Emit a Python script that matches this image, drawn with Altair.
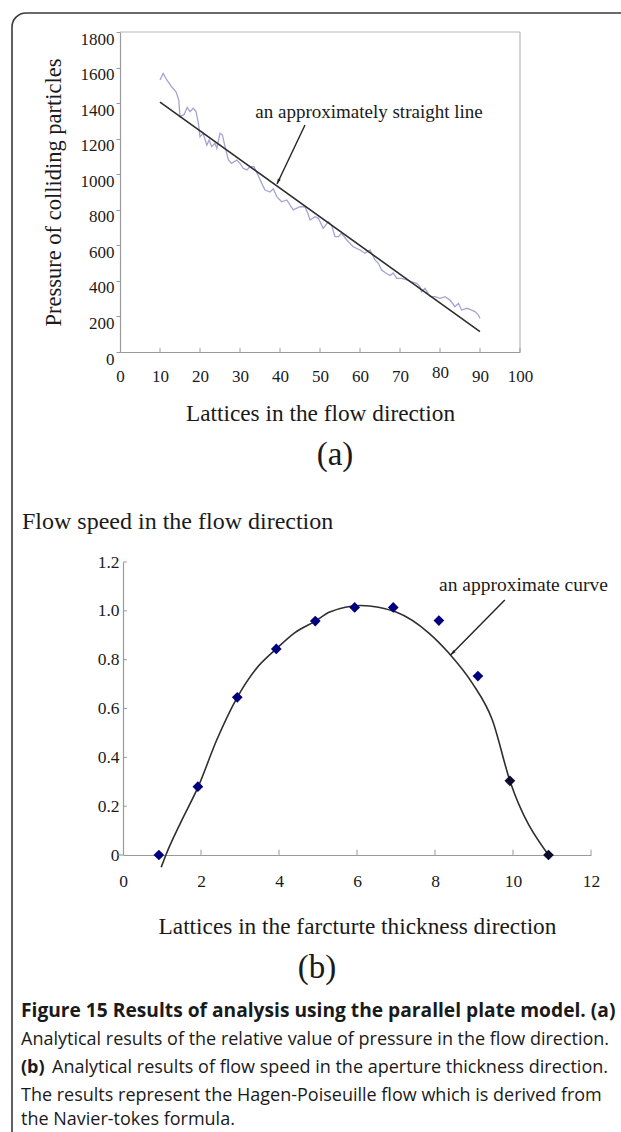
import altair as alt
import pandas as pd

# ---------------- Panel (a): pressure along the flow direction ----------------
lattice_a = [10, 10.8, 11.7, 12.9, 14.0, 14.7, 15.0, 16.0, 16.8, 17.5, 18.3, 19.0, 19.6, 20.0,
             20.8, 21.7, 22.3, 22.9, 23.75, 24.2, 25.0, 25.6, 26.25, 27.1, 27.9, 29.2, 30.0,
             30.8, 31.7, 32.5, 33.5, 34.6, 35.4, 36.25, 37.5, 38.3, 39.2, 40.4, 41.7, 43.3,
             45.0, 46.25, 47.1, 47.5, 48.75, 49.6, 50.8, 52.1, 52.9, 53.75, 54.6, 55.4, 56.7,
             58.3, 60.0, 61.25, 62.5, 63.75, 64.6, 65.4, 66.7, 67.5, 68.3, 69.2, 70.4, 71.7,
             72.9, 74.2, 75.0, 75.4, 76.25, 77.5, 78.75, 80.0, 81.25, 82.5, 83.75, 84.6, 85.4,
             86.7, 87.9, 88.75, 89.6, 90.0]
pressure_a = [1530, 1567, 1530, 1492, 1464, 1417, 1324, 1335, 1376, 1352, 1371, 1352, 1286, 1211,
              1230, 1164, 1193, 1155, 1174, 1146, 1230, 1221, 1155, 1080, 1061, 1080, 1061,
              1033, 1024, 1042, 1042, 990, 950, 911, 900, 918, 874, 845, 855, 799,
              817, 817, 771, 742, 761, 752, 696, 733, 714, 649, 649, 668, 630,
              592, 574, 555, 574, 518, 499, 461, 440, 430, 445, 414, 414, 405,
              395, 386, 367, 339, 358, 311, 311, 302, 311, 292, 255, 274, 236,
              246, 236, 227, 208, 189]
fit_x_a = [10, 90]
fit_y_a = [1405, 115]
xticks_a = [0, 10, 20, 30, 40, 50, 60, 70, 80, 90, 100]
yticks_a = [0, 200, 400, 600, 800, 1000, 1200, 1400, 1600, 1800]
arrow_a_x = [46.25, 39.25]
arrow_a_y = [1277, 945]

# ---------------- Panel (b): flow speed across the aperture ----------------
speed_x = [0.92, 1.92, 2.93, 3.93, 4.93, 5.94, 6.93, 8.1, 9.1, 9.92, 10.91]
speed_y = [0.0, 0.28, 0.646, 0.844, 0.958, 1.014, 1.014, 0.96, 0.733, 0.304, 0.0]
curve_x = [0.98, 1.1, 1.5, 1.93, 2.4, 2.93, 3.4, 3.93, 4.4, 4.93, 5.3, 6.1, 7.0, 7.85,
           8.36, 8.96, 9.47, 9.92, 10.91]
curve_y = [-0.05, 0.0, 0.14, 0.28, 0.47, 0.646, 0.76, 0.844, 0.91, 0.958, 0.995, 1.022,
           0.995, 0.908, 0.826, 0.703, 0.553, 0.304, 0.0]
xticks_b = [0, 2, 4, 6, 8, 10, 12]
yticks_b = [0, 0.2, 0.4, 0.6, 0.8, 1.0, 1.2]
arrow_b_x = [9.79, 8.40]
arrow_b_y = [1.044, 0.819]

caption = [
    "Analytical results of the relative value of pressure in the flow direction.",
    "Analytical results of flow speed in the aperture thickness direction.",
    "The results represent the Hagen-Poiseuille flow which is derived from",
    "the Navier-tokes formula.",
]

# ---------------- layout constants (pixels) ----------------
W, H = 621, 1132
XA, YA = [120, 520], [352, 32]
XB, YB = [123, 591], [855, 562]
SERIF = "Liberation Serif"
SANS = "Open Sans"
AXIS_GRAY = "#9a9a9a"
INK = "#1a1a1a"

one = pd.DataFrame({"k": [0]})


def label(text, x, y, size, font=SERIF, weight="normal", align="center", baseline="alphabetic"):
    return alt.Chart(one).mark_text(
        text=text, font=font, fontSize=size, fontWeight=weight, align=align,
        baseline=baseline, color=INK
    ).encode(x=alt.value(x), y=alt.value(y))


def sx_a():
    return alt.Scale(domain=[0, 100], range=XA, nice=False, zero=False)


def sy_a():
    return alt.Scale(domain=[0, 1800], range=YA, nice=False, zero=False)


def sx_b():
    return alt.Scale(domain=[0, 12], range=XB, nice=False, zero=False)


def sy_b():
    return alt.Scale(domain=[0, 1.2], range=YB, nice=False, zero=False)


# ---------- panel (a) ----------
df_noisy = pd.DataFrame({"x": lattice_a, "y": pressure_a})
df_fit = pd.DataFrame({"x": fit_x_a, "y": fit_y_a})
df_xt_a = pd.DataFrame({"x": xticks_a[1:]})
df_arrow_a = pd.DataFrame({"x": arrow_a_x, "y": arrow_a_y, "o": [0, 1]})

noisy = alt.Chart(df_noisy).mark_line(color="#a4a4d4", strokeWidth=1.3).encode(
    x=alt.X("x:Q", scale=sx_a(), axis=alt.Axis(
        orient="bottom", offset=YA[0] - H, values=xticks_a, grid=False, ticks=False,
        domainColor=AXIS_GRAY, domainWidth=1.2, labelFont=SERIF, labelFontSize=17, labelColor=INK,
        labelPadding={"condition": {"test": "datum.value === 80", "value": 12}, "value": 16},
        labelFlush=False, labelOverlap=False,
        title="Lattices in the flow direction", titleFont=SERIF, titleFontSize=23.3,
        titleFontWeight="normal", titleColor=INK, titlePadding=18)),
    y=alt.Y("y:Q", scale=sy_a(), axis=alt.Axis(
        orient="left", offset=-XA[0], values=yticks_a, format="d", grid=False, tickSize=4,
        tickColor=AXIS_GRAY, domainColor=AXIS_GRAY, domainWidth=1.2, labelFont=SERIF,
        labelFontSize=17, labelColor=INK, labelPadding=2, labelOffset=7, labelFlush=False,
        labelOverlap=False, title="Pressure of colliding particles", titleFont=SERIF,
        titleFontSize=22.5, titleFontWeight="normal", titleColor=INK, titlePadding=15)),
)
fit = alt.Chart(df_fit).mark_line(color="#2e2e2e", strokeWidth=1.6).encode(
    x=alt.X("x:Q", scale=sx_a(), axis=None), y=alt.Y("y:Q", scale=sy_a(), axis=None))
box_top = alt.Chart(one).mark_rule(color="#b5b5b5", strokeWidth=1.2).encode(
    x=alt.datum(0, scale=sx_a(), axis=None), x2=alt.datum(100),
    y=alt.datum(1800, scale=sy_a(), axis=None))
box_right = alt.Chart(one).mark_rule(color="#b5b5b5", strokeWidth=1.2).encode(
    x=alt.datum(100, scale=sx_a(), axis=None), y=alt.datum(0, scale=sy_a(), axis=None),
    y2=alt.datum(1800))
xt_a = alt.Chart(df_xt_a).mark_rule(color=AXIS_GRAY, strokeWidth=1).encode(
    x=alt.X("x:Q", scale=sx_a(), axis=None), y=alt.datum(0, scale=sy_a(), axis=None),
    y2=alt.datum(22))
arr_a_line = alt.Chart(df_arrow_a).mark_line(color="#222", strokeWidth=1.4).encode(
    x=alt.X("x:Q", scale=sx_a(), axis=None), y=alt.Y("y:Q", scale=sy_a(), axis=None),
    order="o:Q")
arr_a_head = alt.Chart(df_arrow_a.iloc[[1]]).mark_point(
    shape="M0,0L-0.38,-1.3L0.38,-1.3Z", filled=True, color="#222", size=70, angle=25, opacity=1
).encode(x=alt.X("x:Q", scale=sx_a(), axis=None), y=alt.Y("y:Q", scale=sy_a(), axis=None))

# ---------- panel (b) ----------
df_pts = pd.DataFrame({"x": speed_x, "y": speed_y})
df_curve = pd.DataFrame({"x": curve_x, "y": curve_y})
df_xt_b = pd.DataFrame({"x": xticks_b[1:]})
df_yt_b = pd.DataFrame({"y": yticks_b[1:]})
df_arrow_b = pd.DataFrame({"x": arrow_b_x, "y": arrow_b_y, "o": [0, 1]})

curve = alt.Chart(df_curve).mark_line(color="#2e2e2e", strokeWidth=1.6, interpolate="monotone").encode(
    x=alt.X("x:Q", scale=sx_b(), axis=alt.Axis(
        orient="bottom", offset=YB[0] - H, values=xticks_b, grid=False, ticks=False,
        domainColor=AXIS_GRAY, domainWidth=1.2, labelFont=SERIF, labelFontSize=17.5,
        labelColor=INK, labelPadding=17, labelFlush=False, labelOverlap=False,
        title="Lattices in the farcturte thickness direction", titleFont=SERIF,
        titleFontSize=23.3, titleFontWeight="normal", titleColor=INK, titlePadding=26)),
    y=alt.Y("y:Q", scale=sy_b(), axis=alt.Axis(
        orient="left", offset=-XB[0], values=yticks_b, grid=False, ticks=False,
        domainColor=AXIS_GRAY, domainWidth=1.2, labelFont=SERIF, labelFontSize=17.5,
        labelColor=INK, labelPadding=4, labelFlush=False, labelOverlap=False,
        labelExpr="datum.value == 0 ? '0' : format(datum.value, '.1f')", title="")),
)
pts = alt.Chart(df_pts).mark_point(shape="diamond", filled=True, size=115, opacity=1).encode(
    x=alt.X("x:Q", scale=sx_b(), axis=None), y=alt.Y("y:Q", scale=sy_b(), axis=None),
    color=alt.condition("datum.x > 9.5", alt.value("#0c0c2e"), alt.value("#00007e")),
)
xt_b = alt.Chart(df_xt_b).mark_rule(color=AXIS_GRAY, strokeWidth=1).encode(
    x=alt.X("x:Q", scale=sx_b(), axis=None), y=alt.datum(0, scale=sy_b(), axis=None),
    y2=alt.datum(0.022))
yt_b = alt.Chart(df_yt_b).mark_rule(color=AXIS_GRAY, strokeWidth=1).encode(
    y=alt.Y("y:Q", scale=sy_b(), axis=None), x=alt.datum(0, scale=sx_b(), axis=None),
    x2=alt.datum(0.1))
x_stub_b = alt.Chart(one).mark_rule(color=AXIS_GRAY, strokeWidth=1.2).encode(
    x=alt.datum(-0.14, scale=sx_b(), axis=None), x2=alt.datum(0),
    y=alt.datum(0, scale=sy_b(), axis=None))
arr_b_line = alt.Chart(df_arrow_b).mark_line(color="#222", strokeWidth=1.4).encode(
    x=alt.X("x:Q", scale=sx_b(), axis=None), y=alt.Y("y:Q", scale=sy_b(), axis=None),
    order="o:Q")
arr_b_head = alt.Chart(df_arrow_b.iloc[[1]]).mark_point(
    shape="M0,0L-0.38,-1.3L0.38,-1.3Z", filled=True, color="#222", size=70, angle=45, opacity=1
).encode(x=alt.X("x:Q", scale=sx_b(), axis=None), y=alt.Y("y:Q", scale=sy_b(), axis=None))

# ---------- decorations / text ----------
border = alt.Chart(one).mark_rect(
    fill="transparent", stroke="#3a3a3a", strokeWidth=1.6, cornerRadius=14
).encode(x=alt.value(12), y=alt.value(13), x2=alt.value(700), y2=alt.value(1200))

texts = [
    label("an approximately straight line", 369, 118, 19),
    label("(a)", 335, 465, 33),
    label("Flow speed in the flow direction", 22, 529, 24, align="left"),
    label("an approximate curve", 439, 591, 19.5, align="left"),
    label("(b)", 317, 978, 33),
    label("Figure 15 Results of analysis using the parallel plate model. (a)", 21, 1017, 19.2,
          font=SANS, weight="bold", align="left"),
    label(caption[0], 21, 1045, 18, font=SANS, align="left"),
    label("(b)", 21, 1073, 18, font=SANS, weight="bold", align="left"),
    label(caption[1], 52, 1073, 18, font=SANS, align="left"),
    label(caption[2], 21, 1101, 18, font=SANS, align="left"),
    label(caption[3], 21, 1125, 18, font=SANS, align="left"),
]

layers = [noisy, fit, box_top, box_right, xt_a, arr_a_line, arr_a_head,
          curve, pts, xt_b, yt_b, x_stub_b, arr_b_line, arr_b_head, border] + texts

chart = alt.layer(*layers).resolve_scale(
    x="independent", y="independent"
).properties(
    width=W, height=H, padding=0, autosize=alt.AutoSizeParams(type="none"), background="white"
).configure_view(stroke=None)

chart.save("out.html", embed_options={"renderer": "svg", "actions": False})
